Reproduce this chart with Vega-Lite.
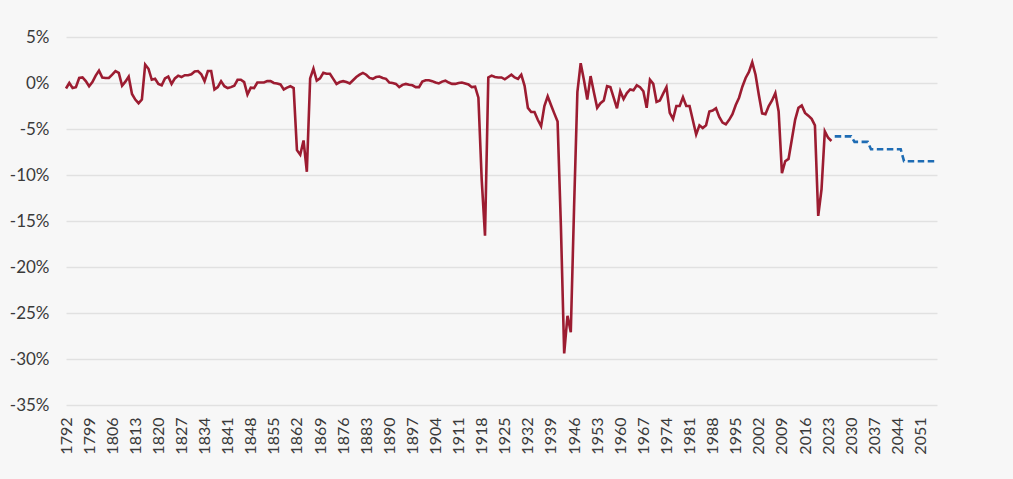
{
  "$schema": "https://vega.github.io/schema/vega-lite/v6.json",
  "description": "Annual budget balance as a share of GDP, 1792-2024, with projection",
  "width": 871,
  "height": 368,
  "autosize": {"type": "none"},
  "padding": {"left": 66, "top": 37, "right": 76, "bottom": 74},
  "background": "#f7f7f7",
  "datasets": {
    "actual": [
      {"year": 1792, "value": -0.6}, {"year": 1793, "value": 0.0}, {"year": 1794, "value": -0.55},
      {"year": 1795, "value": -0.45}, {"year": 1796, "value": 0.55}, {"year": 1797, "value": 0.6},
      {"year": 1798, "value": 0.2}, {"year": 1799, "value": -0.35}, {"year": 1800, "value": 0.1},
      {"year": 1801, "value": 0.8}, {"year": 1802, "value": 1.35}, {"year": 1803, "value": 0.6},
      {"year": 1804, "value": 0.55}, {"year": 1805, "value": 0.55}, {"year": 1806, "value": 0.9},
      {"year": 1807, "value": 1.3}, {"year": 1808, "value": 1.1}, {"year": 1809, "value": -0.3},
      {"year": 1810, "value": 0.15}, {"year": 1811, "value": 0.7}, {"year": 1812, "value": -1.2},
      {"year": 1813, "value": -1.8}, {"year": 1814, "value": -2.2}, {"year": 1815, "value": -1.8},
      {"year": 1816, "value": 2.0}, {"year": 1817, "value": 1.55}, {"year": 1818, "value": 0.35},
      {"year": 1819, "value": 0.45}, {"year": 1820, "value": -0.1}, {"year": 1821, "value": -0.25},
      {"year": 1822, "value": 0.5}, {"year": 1823, "value": 0.7}, {"year": 1824, "value": -0.1},
      {"year": 1825, "value": 0.5}, {"year": 1826, "value": 0.8}, {"year": 1827, "value": 0.65},
      {"year": 1828, "value": 0.85}, {"year": 1829, "value": 0.85}, {"year": 1830, "value": 0.95},
      {"year": 1831, "value": 1.25}, {"year": 1832, "value": 1.3}, {"year": 1833, "value": 0.95},
      {"year": 1834, "value": 0.2}, {"year": 1835, "value": 1.3}, {"year": 1836, "value": 1.3},
      {"year": 1837, "value": -0.7}, {"year": 1838, "value": -0.45}, {"year": 1839, "value": 0.2},
      {"year": 1840, "value": -0.35}, {"year": 1841, "value": -0.55}, {"year": 1842, "value": -0.45},
      {"year": 1843, "value": -0.3}, {"year": 1844, "value": 0.35}, {"year": 1845, "value": 0.35},
      {"year": 1846, "value": 0.1}, {"year": 1847, "value": -1.25}, {"year": 1848, "value": -0.5},
      {"year": 1849, "value": -0.55}, {"year": 1850, "value": 0.05}, {"year": 1851, "value": 0.05},
      {"year": 1852, "value": 0.05}, {"year": 1853, "value": 0.2}, {"year": 1854, "value": 0.2},
      {"year": 1855, "value": 0.0}, {"year": 1856, "value": -0.05}, {"year": 1857, "value": -0.15},
      {"year": 1858, "value": -0.7}, {"year": 1859, "value": -0.5}, {"year": 1860, "value": -0.35},
      {"year": 1861, "value": -0.55}, {"year": 1862, "value": -7.3}, {"year": 1863, "value": -7.8},
      {"year": 1864, "value": -6.25}, {"year": 1865, "value": -9.65}, {"year": 1866, "value": 0.5},
      {"year": 1867, "value": 1.55}, {"year": 1868, "value": 0.25}, {"year": 1869, "value": 0.5},
      {"year": 1870, "value": 1.1}, {"year": 1871, "value": 1.0}, {"year": 1872, "value": 1.0},
      {"year": 1873, "value": 0.45}, {"year": 1874, "value": -0.1}, {"year": 1875, "value": 0.1},
      {"year": 1876, "value": 0.2}, {"year": 1877, "value": 0.1}, {"year": 1878, "value": -0.05},
      {"year": 1879, "value": 0.3}, {"year": 1880, "value": 0.65}, {"year": 1881, "value": 0.9},
      {"year": 1882, "value": 1.1}, {"year": 1883, "value": 0.9}, {"year": 1884, "value": 0.55},
      {"year": 1885, "value": 0.45}, {"year": 1886, "value": 0.65}, {"year": 1887, "value": 0.7},
      {"year": 1888, "value": 0.55}, {"year": 1889, "value": 0.45}, {"year": 1890, "value": 0.05},
      {"year": 1891, "value": 0.0}, {"year": 1892, "value": -0.1}, {"year": 1893, "value": -0.45},
      {"year": 1894, "value": -0.2}, {"year": 1895, "value": -0.1}, {"year": 1896, "value": -0.2},
      {"year": 1897, "value": -0.25}, {"year": 1898, "value": -0.45}, {"year": 1899, "value": -0.45},
      {"year": 1900, "value": 0.15}, {"year": 1901, "value": 0.3}, {"year": 1902, "value": 0.3},
      {"year": 1903, "value": 0.2}, {"year": 1904, "value": 0.05}, {"year": 1905, "value": -0.05},
      {"year": 1906, "value": 0.15}, {"year": 1907, "value": 0.25}, {"year": 1908, "value": 0.05},
      {"year": 1909, "value": -0.1}, {"year": 1910, "value": -0.1}, {"year": 1911, "value": 0.0},
      {"year": 1912, "value": 0.05}, {"year": 1913, "value": -0.05}, {"year": 1914, "value": -0.15},
      {"year": 1915, "value": -0.45}, {"year": 1916, "value": -0.4}, {"year": 1917, "value": -1.6},
      {"year": 1918, "value": -10.5}, {"year": 1919, "value": -16.6}, {"year": 1920, "value": 0.6},
      {"year": 1921, "value": 0.8}, {"year": 1922, "value": 0.65}, {"year": 1923, "value": 0.6},
      {"year": 1924, "value": 0.6}, {"year": 1925, "value": 0.4}, {"year": 1926, "value": 0.65},
      {"year": 1927, "value": 0.9}, {"year": 1928, "value": 0.6}, {"year": 1929, "value": 0.45},
      {"year": 1930, "value": 0.9}, {"year": 1931, "value": -0.3}, {"year": 1932, "value": -2.7},
      {"year": 1933, "value": -3.15}, {"year": 1934, "value": -3.15}, {"year": 1935, "value": -4.0},
      {"year": 1936, "value": -4.7}, {"year": 1937, "value": -2.5}, {"year": 1938, "value": -1.45},
      {"year": 1939, "value": -2.4}, {"year": 1940, "value": -3.3}, {"year": 1941, "value": -4.2},
      {"year": 1942, "value": -15.5}, {"year": 1943, "value": -29.4}, {"year": 1944, "value": -25.3},
      {"year": 1945, "value": -27.1}, {"year": 1946, "value": -13.5}, {"year": 1947, "value": -1.0},
      {"year": 1948, "value": 2.15}, {"year": 1949, "value": 0.3}, {"year": 1950, "value": -1.8},
      {"year": 1951, "value": 0.75}, {"year": 1952, "value": -1.0}, {"year": 1953, "value": -2.7},
      {"year": 1954, "value": -2.2}, {"year": 1955, "value": -1.9}, {"year": 1956, "value": -0.35},
      {"year": 1957, "value": -0.45}, {"year": 1958, "value": -1.6}, {"year": 1959, "value": -2.75},
      {"year": 1960, "value": -0.9}, {"year": 1961, "value": -1.75}, {"year": 1962, "value": -1.1},
      {"year": 1963, "value": -0.7}, {"year": 1964, "value": -0.8}, {"year": 1965, "value": -0.25},
      {"year": 1966, "value": -0.45}, {"year": 1967, "value": -0.9}, {"year": 1968, "value": -2.7},
      {"year": 1969, "value": 0.35}, {"year": 1970, "value": -0.1}, {"year": 1971, "value": -2.05},
      {"year": 1972, "value": -1.9}, {"year": 1973, "value": -1.15}, {"year": 1974, "value": -0.45},
      {"year": 1975, "value": -3.25}, {"year": 1976, "value": -3.9}, {"year": 1977, "value": -2.5},
      {"year": 1978, "value": -2.5}, {"year": 1979, "value": -1.55}, {"year": 1980, "value": -2.5},
      {"year": 1981, "value": -2.5}, {"year": 1982, "value": -4.05}, {"year": 1983, "value": -5.6},
      {"year": 1984, "value": -4.6}, {"year": 1985, "value": -4.9}, {"year": 1986, "value": -4.6},
      {"year": 1987, "value": -3.1}, {"year": 1988, "value": -3.0}, {"year": 1989, "value": -2.75},
      {"year": 1990, "value": -3.7}, {"year": 1991, "value": -4.3}, {"year": 1992, "value": -4.5},
      {"year": 1993, "value": -4.0}, {"year": 1994, "value": -3.4}, {"year": 1995, "value": -2.4},
      {"year": 1996, "value": -1.6}, {"year": 1997, "value": -0.4}, {"year": 1998, "value": 0.55},
      {"year": 1999, "value": 1.2}, {"year": 2000, "value": 2.25}, {"year": 2001, "value": 0.9},
      {"year": 2002, "value": -1.3}, {"year": 2003, "value": -3.3}, {"year": 2004, "value": -3.4},
      {"year": 2005, "value": -2.5}, {"year": 2006, "value": -1.9}, {"year": 2007, "value": -1.1},
      {"year": 2008, "value": -3.1}, {"year": 2009, "value": -9.8}, {"year": 2010, "value": -8.5},
      {"year": 2011, "value": -8.25}, {"year": 2012, "value": -6.15}, {"year": 2013, "value": -4.0},
      {"year": 2014, "value": -2.7}, {"year": 2015, "value": -2.45}, {"year": 2016, "value": -3.25},
      {"year": 2017, "value": -3.55}, {"year": 2018, "value": -3.9}, {"year": 2019, "value": -4.6},
      {"year": 2020, "value": -14.45}, {"year": 2021, "value": -11.55}, {"year": 2022, "value": -5.25},
      {"year": 2023, "value": -5.95}, {"year": 2024, "value": -6.3}
    ],
    "projection": [
      {"year": 2025, "value": -5.8}, {"year": 2026, "value": -5.8}, {"year": 2027, "value": -5.8},
      {"year": 2028, "value": -5.8}, {"year": 2029, "value": -5.8}, {"year": 2030, "value": -5.8},
      {"year": 2031, "value": -6.4}, {"year": 2032, "value": -6.4}, {"year": 2033, "value": -6.4},
      {"year": 2034, "value": -6.4}, {"year": 2035, "value": -6.4}, {"year": 2036, "value": -7.2},
      {"year": 2037, "value": -7.2}, {"year": 2038, "value": -7.2}, {"year": 2039, "value": -7.2},
      {"year": 2040, "value": -7.2}, {"year": 2041, "value": -7.2}, {"year": 2042, "value": -7.2},
      {"year": 2043, "value": -7.2}, {"year": 2044, "value": -7.2}, {"year": 2045, "value": -7.2},
      {"year": 2046, "value": -8.5}, {"year": 2047, "value": -8.5}, {"year": 2048, "value": -8.5},
      {"year": 2049, "value": -8.5}, {"year": 2050, "value": -8.5}, {"year": 2051, "value": -8.5},
      {"year": 2052, "value": -8.5}, {"year": 2053, "value": -8.5}, {"year": 2054, "value": -8.5},
      {"year": 2055, "value": -8.5}, {"year": 2056, "value": -8.5}
    ]
  },
  "encoding": {
    "x": {
      "field": "year",
      "type": "quantitative",
      "scale": {"domain": [1792, 2056], "nice": false, "zero": false},
      "axis": {
        "title": null,
        "values": [1792, 1799, 1806, 1813, 1820, 1827, 1834, 1841, 1848, 1855, 1862, 1869, 1876, 1883, 1890, 1897, 1904, 1911, 1918, 1925, 1932, 1939, 1946, 1953, 1960, 1967, 1974, 1981, 1988, 1995, 2002, 2009, 2016, 2023, 2030, 2037, 2044, 2051],
        "format": "d",
        "labelAngle": 270,
        "labelOverlap": false,
        "labelFontSize": 16,
        "labelPadding": 12,
        "grid": false,
        "ticks": false,
        "domain": false
      }
    },
    "y": {
      "field": "value",
      "type": "quantitative",
      "scale": {"domain": [-35, 5], "nice": false},
      "axis": {
        "title": null,
        "values": [-35, -30, -25, -20, -15, -10, -5, 0, 5],
        "labelExpr": "datum.value + '%'",
        "labelFontSize": 17,
        "labelPadding": 17,
        "ticks": false,
        "domain": false,
        "gridColor": "#e1e1e1",
        "gridWidth": 1.5
      }
    }
  },
  "layer": [
    {
      "data": {"name": "actual"},
      "mark": {"type": "line", "color": "#9c1c31", "strokeWidth": 2.6}
    },
    {
      "data": {"name": "projection"},
      "mark": {"type": "line", "color": "#1e6cb4", "strokeWidth": 2.6, "strokeDash": [6.5, 3.5]}
    }
  ],
  "config": {
    "view": {"stroke": null},
    "axis": {"labelFont": "Lato", "labelColor": "#3a3a3a"}
  }
}
